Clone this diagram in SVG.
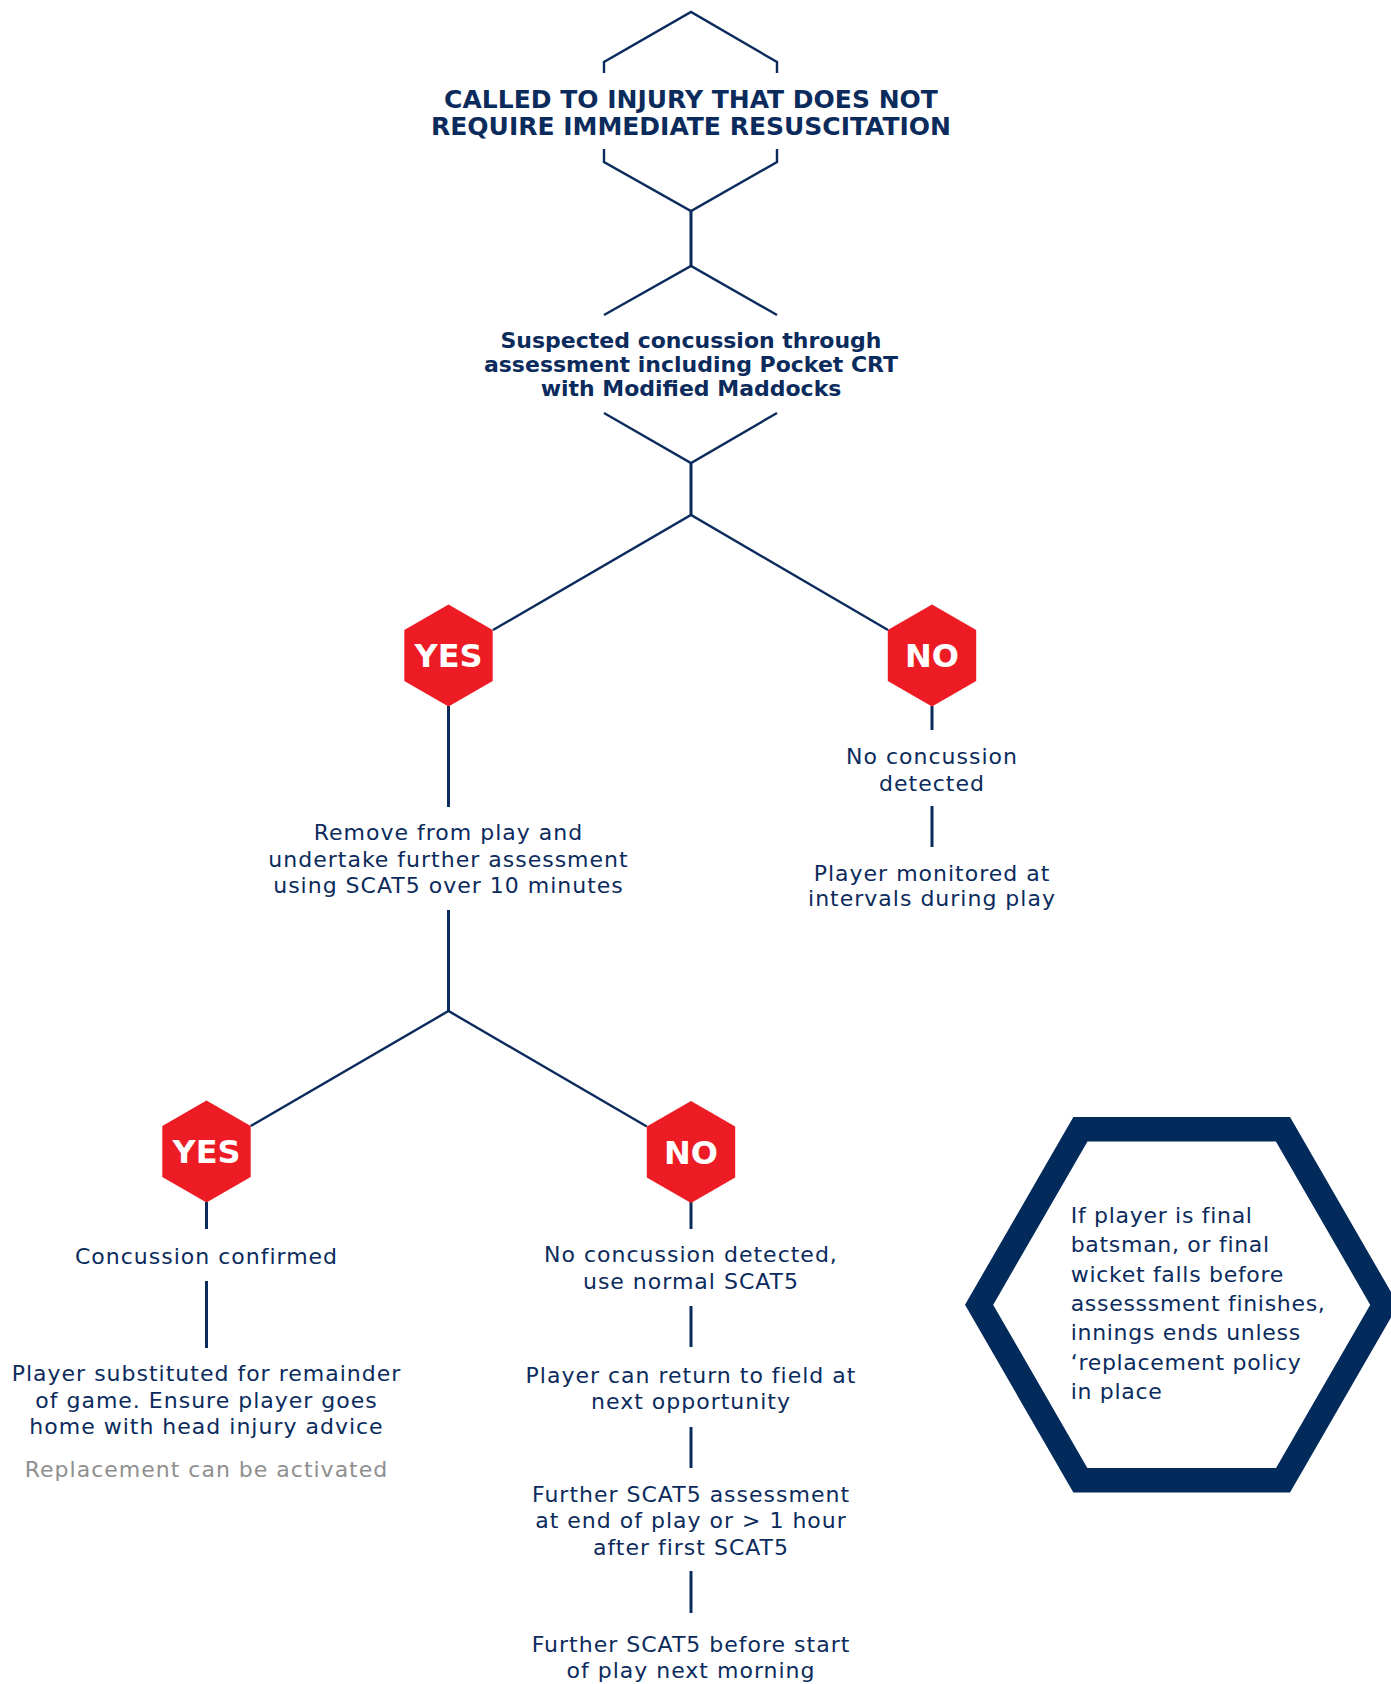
<svg xmlns="http://www.w3.org/2000/svg" width="1391" height="1684" viewBox="0 0 1391 1684">
<style>
.ln{fill:none;stroke:#0b2b5c;stroke-width:2.4;stroke-linejoin:miter}
.vl{fill:none;stroke:#0b2b5c;stroke-width:3}
.red{fill:#ed1c24}
.t{font-family:"DejaVu Sans",sans-serif;font-size:22px;fill:#0b2b5c;text-anchor:middle;letter-spacing:1px}
.tb{font-family:"DejaVu Sans",sans-serif;font-size:22px;font-weight:bold;fill:#0b2b5c;text-anchor:middle}
.title{font-family:"DejaVu Sans",sans-serif;font-size:25px;font-weight:bold;fill:#0b2b5c;text-anchor:middle}
.yn{font-family:"DejaVu Sans",sans-serif;font-size:32px;font-weight:bold;fill:#fff;text-anchor:middle}
.grey{fill:#8f8f8f}
.h{font-family:"DejaVu Sans",sans-serif;font-size:22px;fill:#0b2b5c;letter-spacing:0.7px}
</style>
<rect width="1391" height="1684" fill="#fff"/>
<g id="connectors">
<path class="vl" d="M691,211V266"/>
<path class="vl" d="M691,463V515"/>
<path class="ln" d="M493,630L691,515L888,630"/>
<path class="vl" d="M448.5,706V807"/>
<path class="vl" d="M448.5,910V1011"/>
<path class="ln" d="M250.7,1126L448.5,1011L646.8,1126.5"/>
<path class="vl" d="M932,706V730"/>
<path class="vl" d="M932,806V847"/>
<path class="vl" d="M206.5,1202V1229"/>
<path class="vl" d="M206.5,1281V1348"/>
<path class="vl" d="M691,1202V1229"/>
<path class="vl" d="M691,1306V1347"/>
<path class="vl" d="M691,1427V1468"/>
<path class="vl" d="M691,1571V1613"/>
</g>
<g id="start">
<path class="ln" d="M604,73V62L691,12L777,62V73"/>
<path class="ln" d="M604,149V162L691,211L777,162V149"/>
<text class="title" x="691" y="108.3">CALLED TO INJURY THAT DOES NOT</text>
<text class="title" x="691" y="135">REQUIRE IMMEDIATE RESUSCITATION</text>
</g>
<g id="suspected">
<path class="ln" d="M604,315L691,266L777,315"/>
<path class="ln" d="M604,413L691,463L777,413"/>
<text class="tb" x="691" y="348">Suspected concussion through</text>
<text class="tb" x="691" y="372">assessment including Pocket CRT</text>
<text class="tb" x="691" y="396">with Modified Maddocks</text>
</g>
<g id="yes1">
<polygon class="red" points="448.5,604.5 492.7,630 492.7,681 448.5,706.5 404.3,681 404.3,630"/>
<text class="yn" x="448.5" y="667">YES</text>
</g>
<g id="no1">
<polygon class="red" points="932,604.5 976.2,630 976.2,681 932,706.5 887.8,681 887.8,630"/>
<text class="yn" x="932" y="667">NO</text>
</g>
<g id="remove">
<text class="t" x="448.5" y="840">Remove from play and</text>
<text class="t" x="448.5" y="867">undertake further assessment</text>
<text class="t" x="448.5" y="893">using SCAT5 over 10 minutes</text>
</g>
<g id="no-concussion-1">
<text class="t" x="932" y="764">No concussion</text>
<text class="t" x="932" y="791">detected</text>
</g>
<g id="monitored">
<text class="t" x="932" y="881">Player monitored at</text>
<text class="t" x="932" y="906">intervals during play</text>
</g>
<g id="yes2">
<polygon class="red" points="206.5,1100.5 250.7,1126 250.7,1177 206.5,1202.5 162.3,1177 162.3,1126"/>
<text class="yn" x="206.5" y="1163">YES</text>
</g>
<g id="no2">
<polygon class="red" points="691,1101 735.2,1126.5 735.2,1177.5 691,1203 646.8,1177.5 646.8,1126.5"/>
<text class="yn" x="691" y="1163.5">NO</text>
</g>
<g id="confirmed">
<text class="t" x="206.5" y="1264">Concussion confirmed</text>
</g>
<g id="substituted">
<text class="t" x="206.5" y="1381">Player substituted for remainder</text>
<text class="t" x="206.5" y="1407.5">of game. Ensure player goes</text>
<text class="t" x="206.5" y="1434">home with head injury advice</text>
<text class="t grey" x="206.5" y="1477">Replacement can be activated</text>
</g>
<g id="no-concussion-2">
<text class="t" x="691" y="1262">No concussion detected,</text>
<text class="t" x="691" y="1289">use normal SCAT5</text>
</g>
<g id="return">
<text class="t" x="691" y="1383">Player can return to field at</text>
<text class="t" x="691" y="1409">next opportunity</text>
</g>
<g id="further1">
<text class="t" x="691" y="1502">Further SCAT5 assessment</text>
<text class="t" x="691" y="1528">at end of play or &gt; 1 hour</text>
<text class="t" x="691" y="1555">after first SCAT5</text>
</g>
<g id="further2">
<text class="t" x="691" y="1652">Further SCAT5 before start</text>
<text class="t" x="691" y="1678">of play next morning</text>
</g>
<g id="note">
<polygon points="1384.3,1304.8 1283,1480.3 1080.4,1480.3 979.1,1304.8 1080.4,1129.3 1283,1129.3" fill="none" stroke="#022b5c" stroke-width="24.4" stroke-linejoin="miter"/>
<text class="h" x="1070.7" y="1223">If player is final</text>
<text class="h" x="1070.7" y="1252.3">batsman, or final</text>
<text class="h" x="1070.7" y="1281.6">wicket falls before</text>
<text class="h" x="1070.7" y="1310.9">assesssment finishes,</text>
<text class="h" x="1070.7" y="1340.2">innings ends unless</text>
<text class="h" x="1070.7" y="1369.5">‘replacement policy</text>
<text class="h" x="1070.7" y="1398.8">in place</text>
</g>
</svg>
